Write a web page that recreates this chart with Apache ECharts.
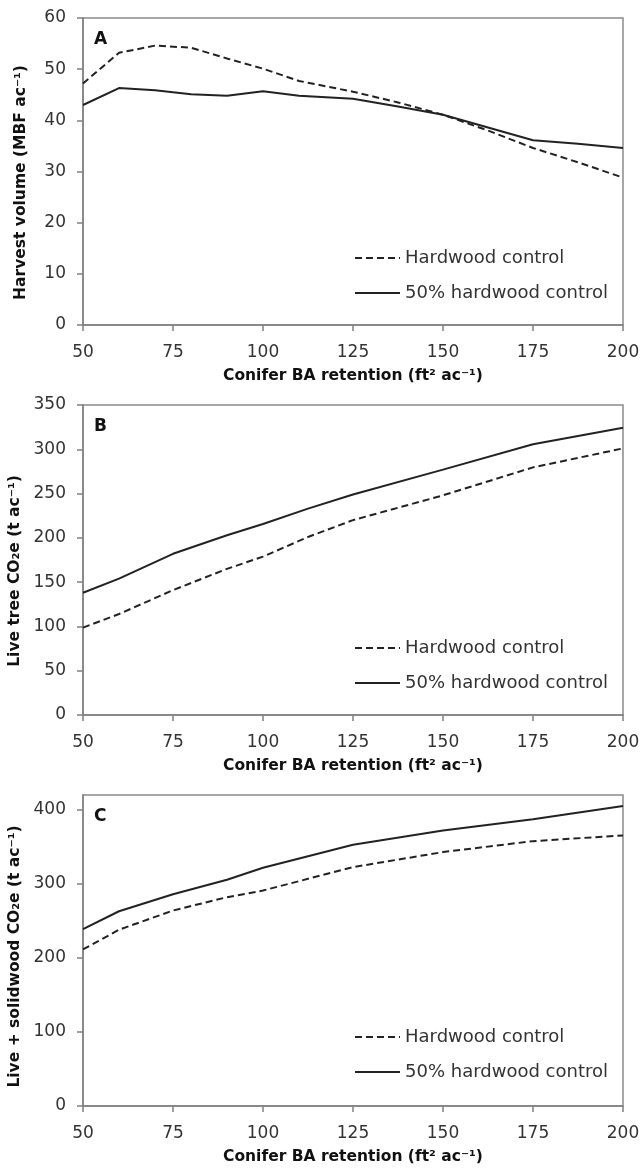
<!DOCTYPE html>
<html>
<head>
<meta charset="utf-8">
<script src="https://cdn.jsdelivr.net/npm/echarts@6/dist/echarts.min.js"></script>
<style>
html,body{margin:0;padding:0;background:#fff;}
#c{width:641px;height:1168px;}
</style>
</head>
<body>
<div id="c"></div>
<script>
// Panel A: harvest volume (MBF/ac)
var xA = [50, 60, 70, 80, 90, 100, 110, 125, 137.5, 150, 162.5, 175, 187.5, 200];
var hwA = [47.2, 53.2, 54.6, 54.2, 52.1, 50.1, 47.7, 45.6, 43.5, 41.1, 38.0, 34.6, 31.8, 28.8];
var halfA = [43.0, 46.3, 45.9, 45.1, 44.8, 45.7, 44.8, 44.2, 42.7, 41.1, 38.6, 36.1, 35.4, 34.6];
// Panel B: live tree CO2e (t/ac)
var xB = [50, 60, 75, 90, 100, 112.5, 125, 150, 175, 200];
var hwB = [98.6, 114, 141, 165, 178.8, 201, 220, 248, 279.6, 301];
var halfB = [138, 154, 182, 203, 215.7, 233, 249, 277, 305.6, 324.4];
// Panel C: live + solidwood CO2e (t/ac)
var xC = [50, 60, 75, 90, 100, 125, 150, 175, 200];
var hwC = [211.5, 238, 264, 282, 291, 322.6, 342.9, 357.7, 365.4];
var halfC = [239, 263, 286, 305.5, 321.7, 352.8, 372, 387.4, 405];

var xTicks = [50, 75, 100, 125, 150, 175, 200];
var names = ['Hardwood control', '50% hardwood control'];
var panelLetters = ['A', 'B', 'C'];
var yTitles = ['Harvest volume (MBF ac\u207B\u00B9)', 'Live tree CO\u2082e (t ac\u207B\u00B9)', 'Live + solidwood CO\u2082e (t ac\u207B\u00B9)'];
var xTitle = 'Conifer BA retention (ft\u00B2 ac\u207B\u00B9)';
var yRanges = [[0, 60, 10], [0, 350, 50], [0, 420, 100]];

function pairs(xs, ys) { return xs.map(function (x, i) { return [x, ys[i]]; }); }

var FONT = 'DejaVu Sans';
var grids = [
  {left: 83, top: 18, width: 540, height: 307},
  {left: 83, top: 405, width: 540, height: 310},
  {left: 83, top: 795, width: 540, height: 311}
];
var legendTops = [249, 639, 1028];
var yTitleShift = [22, 22, 12];

var xAxes = [], yAxes = [], series = [], legends = [], titles = [];
var hw = [hwA, hwB, hwC], half = [halfA, halfB, halfC], xs = [xA, xB, xC];
for (var i = 0; i < 3; i++) {
  grids[i].show = true;
  grids[i].borderColor = '#8a8a8a';
  grids[i].borderWidth = 1.5;
  grids[i].containLabel = false;
  grids[i].outerBoundsMode = 'none';
  xAxes.push({
    type: 'value', gridIndex: i, min: 50, max: 200, interval: 25,
    name: xTitle, nameLocation: 'middle', nameGap: 43,
    nameTextStyle: {fontFamily: FONT, fontWeight: 'bold', fontSize: 15.5, color: '#111'},
    axisLine: {show: true, lineStyle: {color: '#808080', width: 1.5}},
    axisTick: {show: true, length: 6, lineStyle: {color: '#808080', width: 1.5}},
    axisLabel: {margin: 19, fontFamily: FONT, fontSize: 17, color: '#333'},
    splitLine: {show: false}
  });
  yAxes.push({
    type: 'value', gridIndex: i, min: yRanges[i][0], max: yRanges[i][1], interval: yRanges[i][2],
    name: yTitles[i], nameLocation: 'middle', nameGap: 54,
    nameTextStyle: {fontFamily: FONT, fontWeight: 'bold', fontSize: 15.5, color: '#111',
      padding: [0, yTitleShift[i], 0, 0]},
    axisLine: {show: true, lineStyle: {color: '#808080', width: 1.5}},
    axisTick: {show: true, length: 6, lineStyle: {color: '#808080', width: 1.5}},
    axisLabel: {margin: 17, fontFamily: FONT, fontSize: 17, color: '#333', showMaxLabel: i !== 2},
    splitLine: {show: false}
  });
  series.push({
    type: 'line', name: names[0], xAxisIndex: i, yAxisIndex: i, data: pairs(xs[i], hw[i]),
    symbol: 'none', smooth: false,
    lineStyle: {color: '#222', width: 2, type: [7, 4]},
    itemStyle: {color: '#222'}
  });
  series.push({
    type: 'line', name: names[1], xAxisIndex: i, yAxisIndex: i, data: pairs(xs[i], half[i]),
    symbol: 'none', smooth: false,
    lineStyle: {color: '#222', width: 2, type: 'solid'},
    itemStyle: {color: '#222'}
  });
  legends.push({
    data: names, orient: 'vertical', left: 354, top: legendTops[i], padding: 0,
    itemWidth: 45, itemHeight: 16, itemGap: 17, selectedMode: false,
    itemStyle: {opacity: 0},
    textStyle: {fontFamily: FONT, fontSize: 18, color: '#333'}
  });
  titles.push({
    text: panelLetters[i], left: 94, top: grids[i].top + 13, padding: 0,
    textStyle: {fontFamily: FONT, fontWeight: 'bold', fontSize: 17, color: '#111'}
  });
}

var chart = echarts.init(document.getElementById('c'), null, {renderer: 'canvas'});
chart.setOption({
  animation: false,
  backgroundColor: '#fff',
  title: titles,
  grid: grids,
  xAxis: xAxes,
  yAxis: yAxes,
  legend: legends,
  series: series
});
</script>
</body>
</html>
